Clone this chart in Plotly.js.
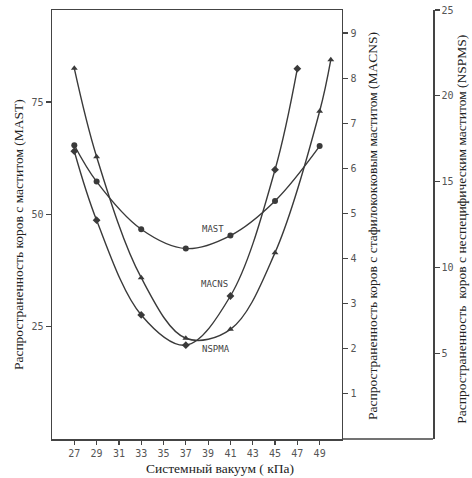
<!DOCTYPE html>
<html>
<head>
<meta charset="utf-8">
<script src="https://cdn.plot.ly/plotly-3.0.1.min.js"></script>
<style>html,body{margin:0;padding:0;background:#fff;}#chart{width:472px;height:478px;}</style>
</head>
<body>
<div id="chart"></div>
<script>
// Vacuum (kPa)
const vacuumMAST = [27, 29, 33, 37, 41, 45, 49];
const valuesMAST = [65.4, 57.3, 46.7, 42.4, 45.3, 53.0, 65.2];

const vacuumMACNS = [27, 29, 33, 37, 41, 45, 47];
const valuesMACNS = [6.38, 4.85, 2.75, 2.08, 3.17, 5.97, 8.21];

const vacuumNSPMA = [27, 29, 33, 37, 41, 45, 49, 50];
const valuesNSPMA = [21.6, 16.45, 9.4, 5.87, 6.39, 10.86, 19.1, 22.1];

const xTicks = [27, 29, 31, 33, 35, 37, 39, 41, 43, 45, 47, 49];
const yTicksMAST = [25, 50, 75];
const yTicksMACNS = [1, 2, 3, 4, 5, 6, 7, 8, 9];
const yTicksNSPMS = [5, 10, 15, 20, 25];

const titleMAST = "Распространенность коров с маститом (MAST)";
const titleMACNS = "Распространенность коров с стафилококковым маститом (MACNS)";
const titleNSPMS = "Распространенность  коров с неспецифическим маститом (NSPMS)";
const titleX = "Системный вакуум ( кПа)";

const lineColor = "#3a3a3a";
const tickFont = {family: "DejaVu Sans Mono", size: 10, color: "#555"};
const serif = {family: "Liberation Serif", size: 13.5, color: "#222"};

const traces = [
  {x: vacuumMAST, y: valuesMAST, yaxis: "y", type: "scatter", mode: "lines+markers",
   line: {color: lineColor, width: 1.4, shape: "spline", smoothing: 1},
   marker: {symbol: "circle", size: 6, color: lineColor}},
  {x: vacuumMACNS, y: valuesMACNS, yaxis: "y2", type: "scatter", mode: "lines+markers",
   line: {color: lineColor, width: 1.4, shape: "spline", smoothing: 1},
   marker: {symbol: "diamond", size: 6, color: lineColor}},
  {x: vacuumNSPMA, y: valuesNSPMA, yaxis: "y3", type: "scatter", mode: "lines+markers",
   line: {color: lineColor, width: 1.4, shape: "spline", smoothing: 1},
   marker: {symbol: "triangle-up", size: 6, color: lineColor}}
];

const axisCommon = {showgrid: false, zeroline: false, showline: true, linecolor: "#444", linewidth: 1.5,
  ticks: "outside", ticklen: 5, tickcolor: "#444", tickwidth: 1.2, tickfont: tickFont, fixedrange: true};

const layout = {
  width: 472, height: 478,
  margin: {l: 52, r: 39, t: 10, b: 39},
  paper_bgcolor: "#fff", plot_bgcolor: "#fff",
  showlegend: false,
  xaxis: Object.assign({}, axisCommon, {domain: [0, 0.761], range: [25, 51], tickvals: xTicks, mirror: true, ticklen: 4}),
  yaxis: Object.assign({}, axisCommon, {range: [0, 95.5], tickvals: yTicksMAST}),
  yaxis2: Object.assign({}, axisCommon, {range: [0, 9.51], tickvals: yTicksMACNS, overlaying: "y", side: "right", anchor: "x"}),
  yaxis3: Object.assign({}, axisCommon, {range: [0, 25], tickvals: yTicksNSPMS, overlaying: "y", side: "right", anchor: "free", position: 1}),
  shapes: [
    {type: "line", xref: "paper", yref: "paper", x0: 0.761, x1: 1, y0: 0, y1: 0, line: {color: "#444", width: 1.5}}
  ],
  annotations: [
    {text: titleMAST, xref: "paper", yref: "paper", x: -0.089, y: 0.4755, textangle: -90, showarrow: false, font: serif, xanchor: "center", yanchor: "middle"},
    {text: titleMACNS, xref: "paper", yref: "paper", x: 0.84, y: 0.4965, textangle: -90, showarrow: false, font: serif, xanchor: "center", yanchor: "middle"},
    {text: titleNSPMS, xref: "paper", yref: "paper", x: 1.076, y: 0.49, textangle: -90, showarrow: false, font: serif, xanchor: "center", yanchor: "middle"},
    {text: titleX, xref: "paper", yref: "paper", x: 0.441, y: -0.068, showarrow: false, font: serif, xanchor: "center", yanchor: "middle"},
    {text: "MAST", xref: "x", yref: "y", x: 39.4, y: 46.7, showarrow: false, font: {family: "DejaVu Sans Mono", size: 9, color: "#444"}},
    {text: "MACNS", xref: "x", yref: "y", x: 39.6, y: 34.4, showarrow: false, font: {family: "DejaVu Sans Mono", size: 9, color: "#444"}},
    {text: "NSPMA", xref: "x", yref: "y", x: 39.7, y: 20.0, showarrow: false, font: {family: "DejaVu Sans Mono", size: 9, color: "#444"}}
  ]
};

Plotly.newPlot("chart", traces, layout, {displayModeBar: false, staticPlot: true});
</script>
</body>
</html>
